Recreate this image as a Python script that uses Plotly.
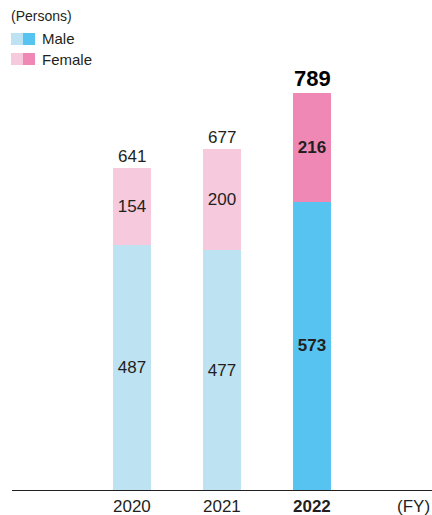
import plotly.graph_objects as go

# Employees by fiscal year (persons)
years = ["2020", "2021", "2022"]
male = [487, 477, 573]
female = [154, 200, 216]
totals = [641, 677, 789]

male_colors = ["#bde3f2", "#bde3f2", "#56c3f0"]
female_colors = ["#f6c9dd", "#f6c9dd", "#ef88b4"]
legend_light = {"Male": "#bde3f2", "Female": "#f6c9dd"}
legend_dark = {"Male": "#56c3f0", "Female": "#ef88b4"}

FONT = "Liberation Sans, Arial, sans-serif"
INK = "#231f20"
xs = list(range(len(years)))
highlight = len(years) - 1

W, H = 432, 515
L, R, T, B = 12, 0, 0, 25
pw, ph = W - L - R, H - T - B


def fmt(v, i):
    return f"<b>{v}</b>" if i == highlight else str(v)


def px_x(x):
    return (x - L) / pw


def px_y(y):
    return (H - y - B) / ph


fig = go.Figure()
for vals, cols in [(male, male_colors), (female, female_colors)]:
    fig.add_trace(go.Bar(
        x=xs, y=vals, width=0.422, marker=dict(color=cols, line=dict(width=0)),
        text=[fmt(v, i) for i, v in enumerate(vals)], textposition="inside",
        insidetextanchor="middle", textangle=0,
        textfont=dict(family=FONT, size=17, color=INK), showlegend=False,
    ))

annotations = []
for i, t in enumerate(totals):
    annotations.append(dict(
        x=xs[i], y=t, xref="x", yref="y", yanchor="bottom", yshift=0,
        text=fmt(t, i), showarrow=False,
        font=dict(family=FONT, size=22 if i == highlight else 17,
                  color="#000" if i == highlight else INK),
    ))
# category labels below the axis line
for i, y in enumerate(years):
    annotations.append(dict(
        x=xs[i], y=px_y(506), xref="x", yref="paper", yanchor="middle",
        text=fmt(y, i), showarrow=False,
        font=dict(family=FONT, size=17, color=INK),
    ))
annotations.append(dict(
    x=1.0, y=px_y(506), xref="paper", yref="paper", xanchor="right", yanchor="middle",
    text="(FY)", showarrow=False, font=dict(family=FONT, size=17, color=INK),
))
annotations.append(dict(
    x=px_x(9), y=px_y(16), xref="paper", yref="paper", text="(Persons)", showarrow=False,
    xanchor="left", yanchor="middle", font=dict(family=FONT, size=14, color=INK),
))

# two-tone legend swatches
shapes = []
for k, name in enumerate(["Male", "Female"]):
    top = 33 + k * 20
    for j, col in enumerate([legend_light[name], legend_dark[name]]):
        x0 = 11 + j * 12
        shapes.append(dict(
            type="rect", xref="paper", yref="paper",
            x0=px_x(x0), x1=px_x(x0 + 12), y0=px_y(top + 12), y1=px_y(top),
            fillcolor=col, line=dict(width=0), layer="above",
        ))
    annotations.append(dict(
        x=px_x(40), y=px_y(top + 6), xref="paper", yref="paper", text=name,
        showarrow=False, xanchor="left", yanchor="middle",
        font=dict(family=FONT, size=15, color=INK),
    ))

fig.update_layout(
    width=W, height=H, barmode="stack",
    margin=dict(l=L, r=R, t=T, b=B),
    plot_bgcolor="white", paper_bgcolor="white",
    xaxis=dict(range=[-1.333, 3.333], showticklabels=False, showgrid=False, zeroline=False,
               showline=True, linecolor=INK, linewidth=1.3, ticks=""),
    yaxis=dict(range=[0, 974], visible=False),
    annotations=annotations, shapes=shapes,
    uniformtext=dict(minsize=8, mode="show"),
)
fig.write_html("out.html")
